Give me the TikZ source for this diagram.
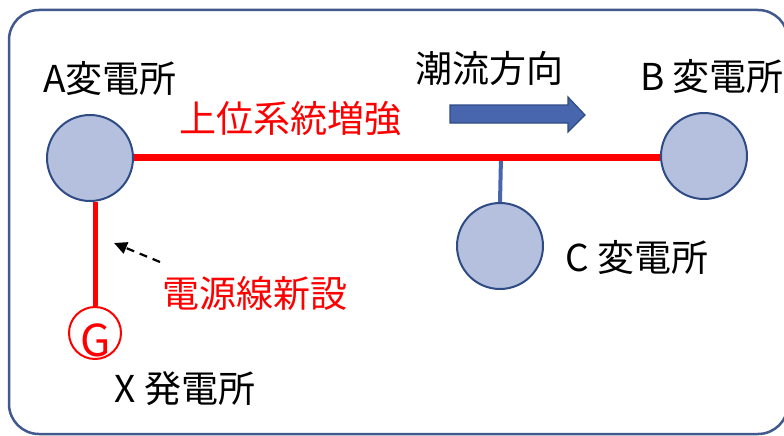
\documentclass[tikz,border=0pt]{standalone}
\usepackage{fontspec}
\setmainfont{Noto Sans CJK JP}
\usetikzlibrary{arrows.meta}
\definecolor{frameblue}{HTML}{41598C}
\definecolor{subfill}{HTML}{B4C0DE}
\definecolor{subdraw}{HTML}{2F4B85}
\definecolor{flowfill}{HTML}{4866AD}
\definecolor{flowdraw}{HTML}{2F4B85}
\tikzset{
  sub/.style={circle, minimum size=86pt, inner sep=0pt, fill=subfill, draw=subdraw, line width=2pt},
  lbl/.style={inner sep=0pt, font=\fontsize{37}{42}\selectfont},
  redlbl/.style={lbl, text=red},
  trunk/.style={red, line width=7pt},
  newline/.style={red, line width=5pt},
  branch/.style={flowfill, line width=4pt},
}
\begin{document}
\begin{tikzpicture}[x=1pt,y=-1pt]
\useasboundingbox (0,0) rectangle (784,436);
\draw[frameblue, line width=2.5pt, rounded corners=30pt] (9,10) rectangle (788,434);
% substations
\node[sub] (A) at (90,158) {};
\node[sub] (B) at (704,156) {};
\node[sub] (C) at (500,246) {};
\node[circle, draw=red, line width=2pt, minimum size=52pt, inner sep=0pt] (G) at (95,333) {};
\node[inner sep=0pt, text=red, font=\fontsize{44}{48}\selectfont] (Gt) at (96,340) {G};
% lines
\coordinate (J) at (501,157);
\draw[branch] (J) -- (C.north);
\draw[trunk] (A.east |- J) -- (J) -- (J -| B.west);
\draw[newline] (G.north) -- (G.north |- A.south);
% labels
\node[lbl] (Al) at (110,78) {A変電所};
\node[redlbl] (up) at (290,119) {上位系統増強};
\node[lbl] (fl) at (489,68) {潮流方向};
\node[lbl] (Bl) at (712,76) {B 変電所};
\node[lbl] (Cl) at (637,257) {C 変電所};
\node[redlbl] (nl) at (255,293) {電源線新設};
\node[lbl] (Xl) at (185,389) {X 発電所};
% flow arrow
\draw[flowdraw, fill=flowfill, line width=1.2pt] (450,105) -- (568,105) -- (568,97) -- (585,115) -- (568,132) -- (568,123) -- (450,123) -- cycle;
% dashed pointer
\coordinate (dp) at (160,262);
\coordinate (dt) at (114,243);
\draw[black, line width=2.2pt, dash pattern=on 8pt off 6pt, -{Triangle[length=13pt,width=12pt]}] (dp) -- (dt);
\end{tikzpicture}
\end{document}
